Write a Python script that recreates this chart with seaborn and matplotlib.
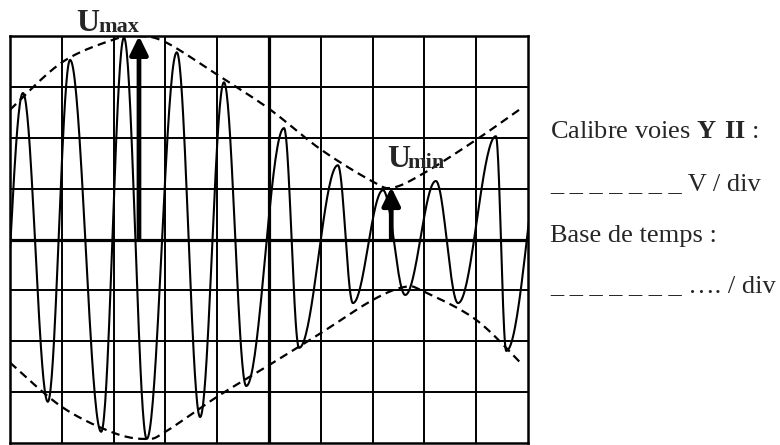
import numpy as np
import pandas as pd
import matplotlib
matplotlib.use("Agg")
import matplotlib.pyplot as plt
import seaborn as sns

# ---------------- data (in screen divisions) ----------------
# carrier extrema, alternating trough / peak (x in div, y in div)
extrema_x = [-0.23, 0.25, 0.73, 1.16, 1.76, 2.20, 2.64, 3.22, 3.67, 4.13, 4.56,
             5.29, 5.58, 6.33, 6.62, 7.20, 7.63, 8.22, 8.65, 9.38, 9.58, 10.42]
extrema_y = [-2.90, 2.88, -3.19, 3.53, -3.78, 3.97, -3.92, 3.68, -3.49, 3.09, -2.88,
             2.19, -2.13, 1.46, -1.25, 0.97, -1.09, 1.15, -1.25, 2.03, -2.19, 2.60]

# upper envelope (dashed)
upper_x = [0.0, 1.0, 2.0, 2.47, 3.0, 4.0, 5.0, 6.0, 7.0, 7.39, 8.0, 9.0, 9.9]
upper_y = [2.55, 3.48, 3.93, 4.00, 3.88, 3.24, 2.57, 1.77, 1.14, 1.02, 1.31, 1.96, 2.60]
# lower envelope (dashed)
lower_x = [0.0, 1.0, 2.0, 2.64, 3.0, 4.0, 5.0, 6.0, 7.0, 7.63, 8.0, 9.0, 9.9]
lower_y = [-2.42, -3.29, -3.80, -3.92, -3.78, -3.09, -2.47, -1.84, -1.19, -0.93, -1.03, -1.58, -2.47]

# markers Umax / Umin
umax_x, umax_y = 2.49, 4.0
umin_x, umin_y = 7.36, 1.03

n_cols, n_rows = 10, 8

text_lines = [r"Calibre voies $\mathbf{Y\ II}$ :",
              "_ _ _ _ _ _ _ V / div",
              "Base de temps :",
              "_ _ _ _ _ _ _ …. / div"]


# ---------------- helpers for smooth rendering ----------------
def carrier_curve(xs, ys, n=40):
    X, Y = [], []
    for i in range(len(xs) - 1):
        t = np.linspace(0, 1, n, endpoint=False)
        X.append(xs[i] + (xs[i + 1] - xs[i]) * t)
        Y.append((ys[i] + ys[i + 1]) / 2 + (ys[i] - ys[i + 1]) / 2 * np.cos(np.pi * t))
    X.append([xs[-1]]); Y.append([ys[-1]])
    return np.concatenate(X), np.concatenate(Y)


def catmull(xs, ys, n=20):
    P = np.column_stack([xs, ys])
    out = []
    for i in range(len(P) - 1):
        p0 = P[max(i - 1, 0)]; p1 = P[i]; p2 = P[i + 1]; p3 = P[min(i + 2, len(P) - 1)]
        t = np.linspace(0, 1, n, endpoint=False)[:, None]
        pt = 0.5 * ((2 * p1) + (-p0 + p2) * t + (2 * p0 - 5 * p1 + 4 * p2 - p3) * t ** 2
                    + (-p0 + 3 * p1 - 3 * p2 + p3) * t ** 3)
        out.append(pt)
    out.append(P[-1:])
    out = np.vstack(out)
    return out[:, 0], out[:, 1]


sns.set_theme(style="white")
plt.rcParams['font.family'] = ['Liberation Serif', 'DejaVu Serif']
plt.rcParams['mathtext.fontset'] = 'custom'
plt.rcParams['mathtext.rm'] = 'Liberation Serif'
plt.rcParams['mathtext.bf'] = 'Liberation Serif:bold'

fig = plt.figure(figsize=(7.8, 4.45), dpi=100)
W, H = 780, 445
ax = fig.add_axes([10 / W, (H - 443) / H, 518 / W, 407 / H])
ax.set_xlim(0, n_cols)
ax.set_ylim(-n_rows / 2, n_rows / 2)
ax.set_xticks([]); ax.set_yticks([])
for s in ax.spines.values():
    s.set_linewidth(1.8); s.set_color('black')

# grid
for i in range(1, n_cols):
    ax.axvline(i, color='black', lw=2.3 if i == n_cols // 2 else 1.4, zorder=1)
for j in range(-n_rows // 2 + 1, n_rows // 2):
    ax.axhline(j, color='black', lw=2.3 if j == 0 else 1.4, zorder=1)

# carrier signal
cx, cy = carrier_curve(extrema_x, extrema_y)
sig = pd.DataFrame({"t": cx, "u": cy})
sns.lineplot(data=sig, x="t", y="u", ax=ax, color='black', lw=1.5, sort=False,
             estimator=None, zorder=3)

# envelopes
ux, uy = catmull(upper_x, upper_y)
lx, ly = catmull(lower_x, lower_y)
env = pd.concat([pd.DataFrame({"t": ux, "u": uy, "side": "up"}),
                 pd.DataFrame({"t": lx, "u": ly, "side": "low"})])
for side, g in env.groupby("side"):
    sns.lineplot(data=g, x="t", y="u", ax=ax, color='black', lw=1.6, sort=False,
                 estimator=None, linestyle=(0, (3.8, 2.4)), zorder=4)
ax.set_xlabel(""); ax.set_ylabel("")

# arrows
for ax_x, ax_y in [(umax_x, umax_y), (umin_x, umin_y)]:
    ax.annotate("", xy=(ax_x, ax_y), xytext=(ax_x, 0),
                arrowprops=dict(arrowstyle="-|>,head_length=0.55,head_width=0.27",
                                lw=3.4, color='black', shrinkA=0, shrinkB=0,
                                mutation_scale=20),
                zorder=5, annotation_clip=False)

# labels
ax.text(1.28, 4.09, "U", fontsize=23, fontweight='bold', va='baseline', ha='left',
        clip_on=False, zorder=6)
ax.text(1.70, 4.07, "max", fontsize=16, fontweight='bold', va='baseline', ha='left',
        clip_on=False, zorder=6)
ax.text(7.29, 1.43, "U", fontsize=23, fontweight='bold', va='baseline', ha='left',
        clip_on=False, zorder=6)
ax.text(7.68, 1.40, "min", fontsize=16, fontweight='bold', va='baseline', ha='left',
        clip_on=False, zorder=6)

# right-hand text
baselines = [138, 190, 242, 292]
for txt, b in zip(text_lines, baselines):
    fig.text(550 / W, 1 - b / H, txt, fontsize=19, va='baseline', ha='left')

fig.savefig("out.png", dpi=100)
